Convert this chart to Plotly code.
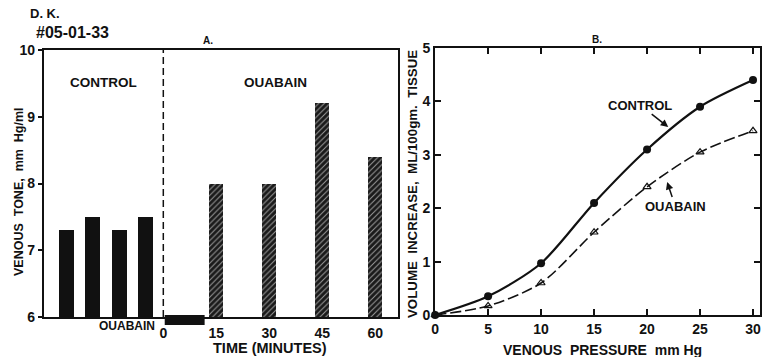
import plotly.graph_objects as go

# ---- Panel A data ----
control_times = [-27.5, -20, -12.5, -5]
control_tone = [7.3, 7.5, 7.3, 7.5]
ouabain_times = [15, 30, 45, 60]
ouabain_tone = [8.0, 8.0, 9.2, 8.4]
infusion_start = 0.4
infusion_end = 11.7
time_ticks = [0, 15, 30, 45, 60]
tone_ticks = [6, 7, 8, 9, 10]

# ---- Panel B data ----
pressure = [0, 5, 10, 15, 20, 25, 30]
vol_control = [0, 0.35, 0.97, 2.1, 3.1, 3.9, 4.4]
vol_ouabain = [0, 0.17, 0.6, 1.55, 2.4, 3.05, 3.45]
pressure_ticks = [0, 5, 10, 15, 20, 25, 30]
vol_ticks = [0, 1, 2, 3, 4, 5]

FONT = "Liberation Sans, Arial, sans-serif"
BLACK = "#111111"

fig = go.Figure()

fig.add_trace(go.Bar(x=control_times, y=control_tone, width=4.2,
                     marker=dict(color=BLACK, line=dict(width=0)),
                     xaxis="x", yaxis="y", showlegend=False))
fig.add_trace(go.Bar(x=ouabain_times, y=ouabain_tone, width=4,
                     marker=dict(color=BLACK, line=dict(width=0),
                                 pattern=dict(shape="/", bgcolor="#1a1a1a",
                                              fgcolor="#9a9a9a", size=4, solidity=0.25)),
                     xaxis="x", yaxis="y", showlegend=False))

fig.add_trace(go.Scatter(x=pressure, y=vol_control, mode="lines+markers",
                         line=dict(color=BLACK, width=2.2, shape="spline", smoothing=0.8),
                         marker=dict(symbol="circle", size=8, color=BLACK),
                         xaxis="x2", yaxis="y2", showlegend=False, cliponaxis=False))
fig.add_trace(go.Scatter(x=pressure, y=vol_ouabain, mode="lines+markers",
                         line=dict(color=BLACK, width=1.6, shape="spline", smoothing=0.8,
                                   dash="11px,4px"),
                         marker=dict(symbol="triangle-up-open", size=7, color=BLACK,
                                     line=dict(width=1.2)),
                         xaxis="x2", yaxis="y2", showlegend=False, cliponaxis=False))

tickfont = dict(family=FONT, size=14, color=BLACK, weight="bold")
base = dict(showline=True, linecolor=BLACK, linewidth=2, showgrid=False,
            zeroline=False, tickfont=tickfont, tickwidth=2, automargin=False)

fig.update_layout(
    template="none",
    width=762, height=357, margin=dict(l=0, r=0, t=0, b=0, pad=0),
    paper_bgcolor="white", plot_bgcolor="white", bargap=0,
    xaxis=dict(domain=[0.0577, 0.522], range=[-33.8, 66.4], tickvals=time_ticks,
               ticks="outside", ticklen=2, tickcolor="rgba(0,0,0,0)",
               mirror=True, anchor="y", **base),
    yaxis=dict(domain=[0.112, 0.86], range=[6, 10], tickvals=tone_ticks,
               ticks="outside", ticklen=4, tickcolor=BLACK, mirror=True, anchor="x", **base),
    yaxis3=dict(overlaying="y", side="right", range=[6, 10], tickvals=tone_ticks,
                ticks="inside", ticklen=6, showticklabels=False, anchor="x",
                showline=False, showgrid=False, zeroline=False, tickcolor=BLACK,
                tickwidth=2, automargin=False),
    xaxis2=dict(domain=[0.571, 0.9974], range=[0, 30.66], tickvals=pressure_ticks,
                ticks="inside", ticklen=6, tickcolor=BLACK, mirror="allticks",
                anchor="y2", **base),
    yaxis2=dict(domain=[0.1176, 0.8655], range=[0, 5], tickvals=vol_ticks,
                ticks="inside", ticklen=6, tickcolor=BLACK, mirror="allticks",
                anchor="x2", **base),
)

# dashed divider and infusion bar
fig.add_shape(type="line", xref="x", yref="y domain", x0=0, x1=0, y0=0, y1=1,
              line=dict(color=BLACK, width=1.5, dash="7px,4px"))
fig.add_shape(type="rect", xref="x", yref="paper", x0=infusion_start, x1=infusion_end,
              y0=0.0896, y1=0.1176, fillcolor=BLACK, line=dict(width=0))

def txt(x, y, s, size=14, xref="paper", yref="paper", **kw):
    fig.add_annotation(x=x, y=y, text=s, xref=xref, yref=yref, showarrow=False,
                       xanchor="center", yanchor="middle",
                       font=dict(family=FONT, size=size, color=BLACK, weight="bold"), **kw)

H = 357.0
W = 762.0
txt(45 / W, 1 - 14 / H, "D. K.", size=13)
txt(72 / W, 1 - 32 / H, "#05-01-33", size=16)
txt(208 / W, 1 - 40 / H, "A.", size=10)
txt(597 / W, 1 - 39 / H, "B.", size=10)
txt(-17, 9.52, "CONTROL", size=13.5, xref="x", yref="y")
txt(31.7, 9.52, "OUABAIN", size=13.5, xref="x", yref="y")
txt(-10.3, 1 - 326 / H, "OUABAIN", size=12, xref="x")
txt(19 / W, 1 - 192 / H, "VENOUS  TONE,  mm  Hg/ml", size=12.5, textangle=-90)
txt(413 / W, 1 - 184 / H, "VOLUME  INCREASE,  ML/100gm.  TISSUE", size=13.3, textangle=-90)
txt(270 / W, 1 - 348 / H, "TIME (MINUTES)", size=14.5)
txt(602 / W, 1 - 350 / H, "VENOUS  PRESSURE  mm Hg", size=14)

fig.add_annotation(x=22.0, y=3.52, xref="x2", yref="y2", text="CONTROL",
                   showarrow=True, arrowhead=2, arrowsize=1, arrowwidth=1.5,
                   arrowcolor=BLACK, ax=-28, ay=-22,
                   font=dict(family=FONT, size=13, color=BLACK, weight="bold"))
fig.add_annotation(x=21.9, y=2.49, xref="x2", yref="y2", text="OUABAIN",
                   showarrow=True, arrowhead=2, arrowsize=1, arrowwidth=1.5,
                   arrowcolor=BLACK, ax=8, ay=24,
                   font=dict(family=FONT, size=13, color=BLACK, weight="bold"))

fig.write_html("out.html")
